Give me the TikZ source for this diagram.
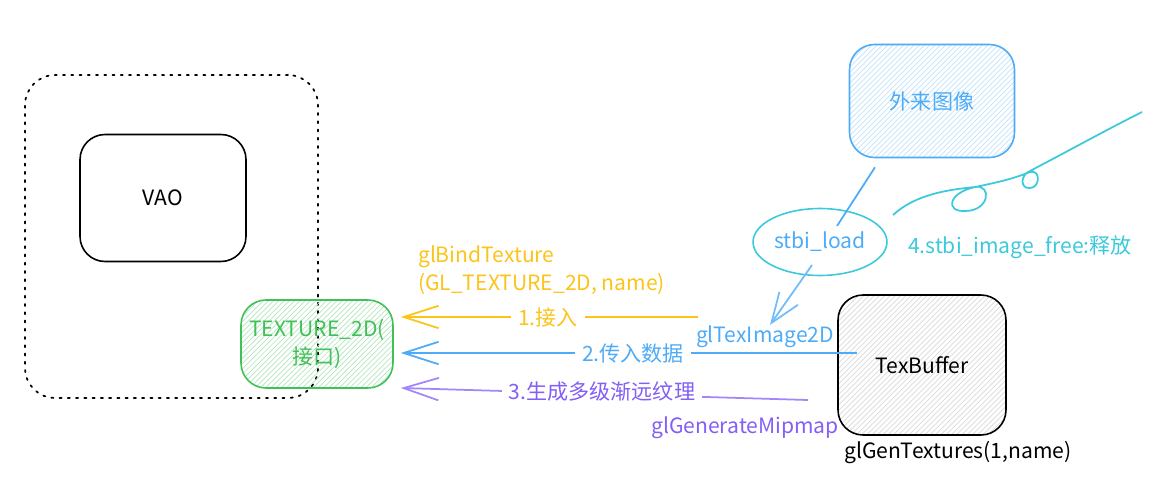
\documentclass[tikz,border=0pt]{standalone}
\usepackage{fontspec}
\setmainfont{Noto Sans CJK SC}
\usetikzlibrary{arrows.meta,patterns,shapes.geometric,calc}

\definecolor{texyellow}{HTML}{FCC419}
\definecolor{texblue}{HTML}{4DABF7}
\definecolor{texgreen}{HTML}{40C057}
\definecolor{texpurple}{HTML}{845EF7}
\definecolor{texcyan}{HTML}{3BC9DB}

\tikzset{
	box/.style={draw, rounded corners=0.5cm, line width=0.9pt, align=center, inner sep=0pt},
	lbl/.style={inner sep=1pt, font=\fontsize{12}{16}\selectfont},
	gap/.style={lbl, fill=white, inner xsep=4pt},
	feed/.style={line width=1pt, -{Straight Barb[length=0.7cm, width=0.45cm]}, shorten >=0.14cm}
}

\begin{document}
\begin{tikzpicture}[x=0.02cm, y=-0.02cm, font=\fontsize{12}{16}\selectfont]
	\useasboundingbox (0,0) rectangle (1170,490);

	% VAO side
	\node[draw, rounded corners=0.6cm, line width=1pt, dash pattern=on 1.2pt off 3.5pt, line cap=round, minimum width=5.86cm, minimum height=6.46cm] (vaoframe) at (171.5,236.5) {};
	\node[box, minimum width=3.32cm, minimum height=2.54cm] (vao) at (163,198) {VAO};
	\node[box, draw=texgreen, text=texgreen, pattern=north east lines, pattern color=texgreen!40, minimum width=3.04cm, minimum height=1.76cm] (tex) at (317,344) {TEXTURE\_2D(\\接口)};

	% image source
	\node[box, draw=texblue, text=texblue, pattern=north east lines, pattern color=texblue!35, minimum width=3.3cm, minimum height=2.26cm] (img) at (932,101) {外来图像};
	\node[ellipse, draw=texcyan, line width=0.9pt, text=texblue, minimum width=2.68cm, minimum height=1.34cm, inner sep=0pt] (load) at (820,242) {stbi\_load};
	\node[box, pattern=north east lines, pattern color=black!15, minimum width=3.36cm, minimum height=2.8cm] (texbuf) at (922,365) {TexBuffer};

	\coordinate (imgfoot) at ($(img.south)+(-57,9)$);
	\coordinate (loadtop) at ($(load.center)+(17,-16)$);
	\draw[texblue, line width=1pt] (imgfoot) -- (loadtop);

	\coordinate (loadsrc) at ($(load.center)+(-8,23)$);
	\coordinate (teximg) at (770,325);
	\draw[texblue!80, line width=1pt, -{Straight Barb[length=0.6cm, width=0.45cm]}] (loadsrc) -- (teximg);

	% free squiggle
	\draw[texcyan, line width=1pt] (893,215) .. controls (915,195) and (945,190) .. (975,187)
		.. controls (992,184) and (990,211) .. (965,211) .. controls (945,212) and (948,193) .. (975,187)
		.. controls (1000,182) and (1015,178) .. (1030,172) .. controls (1041,169) and (1040,188) .. (1030,188)
		.. controls (1020,189) and (1020,175) .. (1030,171) .. controls (1070,150) and (1110,128) .. (1142,112);

	% the three calls
	\coordinate (bindsrc) at (698,317);
	\coordinate (datasrc) at ($(texbuf.west)+(20,-12)$);
	\coordinate (mipsrc) at (808,400);
	\draw[feed, texyellow] (bindsrc) -- (bindsrc -| tex.east);
	\draw[feed, texblue] (datasrc) -- (datasrc -| tex.east);
	\draw[feed, texpurple!75] (mipsrc) -- ($(tex.south east)+(0,-1)$);

	\node[gap, text=texyellow] (bind) at (548,318) {1.接入};
	\node[gap, text=texblue] (data) at (633,354) {2.传入数据};
	\node[gap, text=texpurple] (mip) at (602,392) {3.生成多级渐远纹理};

	% labels
	\node[lbl, text=texyellow, anchor=west, align=left] (bindlbl) at (416,270) {glBindTexture\\(GL\_TEXTURE\_2D, name)};
	\node[lbl, text=texblue] (teximglbl) at (765,337) {glTexImage2D};
	\node[lbl, text=texpurple] (miplbl) at (745,428) {glGenerateMipmap};
	\node[lbl, text=texcyan] (freelbl) at (1020,247) {4.stbi\_image\_free:释放};
	\node[lbl] (genlbl) at (958,453) {glGenTextures(1,name)};

\end{tikzpicture}
\end{document}
